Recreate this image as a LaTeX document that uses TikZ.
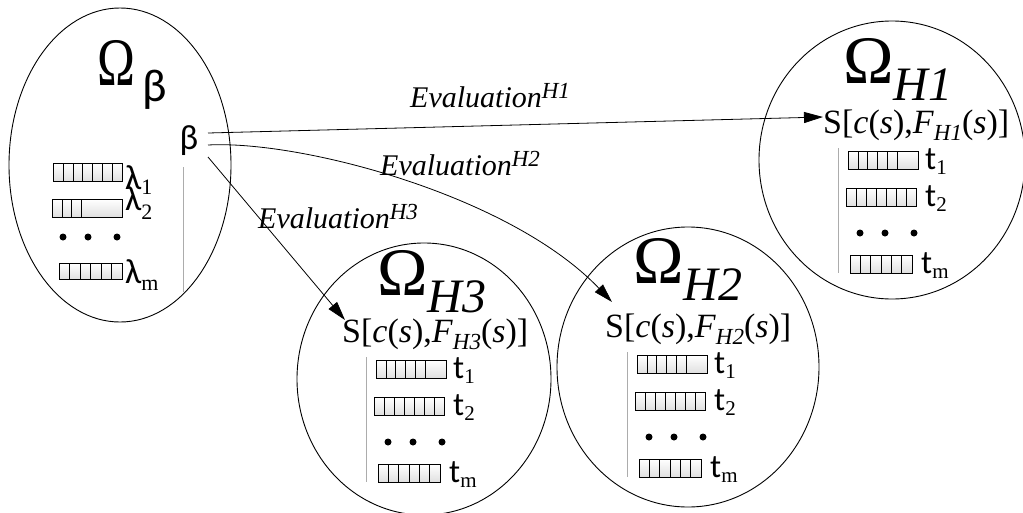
\documentclass[tikz,border=0pt]{standalone}
\usepackage{fontspec}
\setmainfont{Liberation Serif}
\newfontfamily\calib{Carlito}
\usepackage{graphicx}
\usetikzlibrary{shapes.geometric,arrows.meta}
\newcommand\lowsub[3]{\raisebox{-#1}{\fontsize{#2}{#2}\selectfont #3}}
\newcommand\highsup[3]{\raisebox{#1}{\fontsize{#2}{#2}\selectfont #3}}
\newcommand\tlab[1]{{\calib\fontsize{33}{33}\selectfont t}\lowsub{5pt}{21}{#1}}
\newcommand\llab[2]{{\calib\fontsize{35}{35}\selectfont λ}\lowsub{#1}{22}{#2}}

\tikzset{
  region/.style={draw, ellipse, line width=0.9pt, inner sep=0},
  cellbar/.style={draw, line width=0.6pt, top color=white, bottom color=gray!25, inner sep=0, minimum height=18pt, anchor=north west},
  divline/.style={line width=0.6pt},
  vrule/.style={draw=gray!65, line width=0.8pt},
  flow/.style={-{Triangle[length=19pt,width=11pt]}, line width=0.8pt},
  evl/.style={anchor=base west, inner sep=0, font=\fontsize{30}{30}\selectfont\itshape},
  dotmark/.style={fill, circle, inner sep=0, minimum size=7pt},
  txt/.style={anchor=base west, inner sep=0},
}

% #1 prefix, #2 sx, #3 sy, #4 H label, #5 omega dx, #6 omega dy, #7 list x
\newcommand\hgroup[7]{%
\begin{scope}[shift={(#2,#3)}]
\node[txt] (#1s) at (0,0) {\fontsize{34}{34}\selectfont S[\textit{c}(\textit{s}),\textit{F}\lowsub{7pt}{23}{\itshape #4}(\textit{s})]};
\node[txt] (#1t) at (#5,#6) {\fontsize{68}{68}\selectfont Ω\lowsub{17pt}{48}{\itshape #4}};
\draw[vrule] (#7,15) coordinate (#1va) -- (#7,140) coordinate (#1vb);
\node[cellbar, minimum width=70pt] (#1b1) at (#7+10,18) {};
\foreach \d in {10,19,29,39,49} \draw[divline] ([xshift=\d pt]#1b1.north west) -- ([xshift=\d pt]#1b1.south west);
\node[cellbar, minimum width=70pt] (#1b2) at (#7+8,55) {};
\foreach \d in {10,20,30,40,50,60} \draw[divline] ([xshift=\d pt]#1b2.north west) -- ([xshift=\d pt]#1b2.south west);
\node[cellbar, minimum width=62pt] (#1bm) at (#7+12,122) {};
\foreach \d in {10.3,20.7,31,41.3,51.7} \draw[divline] ([xshift=\d pt]#1bm.north west) -- ([xshift=\d pt]#1bm.south west);
\node[dotmark] (#1d1) at (#7+22,100) {};
\node[dotmark] (#1d2) at (#7+47,100) {};
\node[dotmark] (#1d3) at (#7+76,100) {};
\node[txt] (#1l1) at (#7+87,36) {\tlab{1}};
\node[txt] (#1l2) at (#7+87,73) {\tlab{2}};
\node[txt] (#1lm) at (#7+83,140) {\tlab{m}};
\end{scope}}

\begin{document}
\begin{tikzpicture}[x=1pt,y=-1pt]
\useasboundingbox (0,0) rectangle (1023,512);
\fill[white] (0,0) rectangle (1023,512);
\clip (0,0) rectangle (1023,512);

% regions
\node[region, minimum width=222pt, minimum height=314pt] (Eb) at (120,165) {};
\node[region, minimum width=254pt, minimum height=272pt] (E3) at (424,379) {};
\node[region, minimum width=262pt, minimum height=280pt] (E2) at (688,367) {};
\node[region, minimum width=266pt, minimum height=278pt] (E1) at (892,160) {};

% Omega beta
\node[txt, xscale=0.75, transform shape] (Ob) at (97,85) {\fontsize{68}{68}\selectfont Ω};
\node[txt, font=\calib\fontsize{46}{46}\selectfont] (Obs) at (142,101) {β};
\node[inner sep=0, font=\calib\fontsize{35}{35}\selectfont] (beta) at (189,141) {β};
\draw[vrule] (183,167) coordinate (bva) -- (183,292) coordinate (bvb);

\node[cellbar, minimum width=69pt] (bb1) at (53,163) {};
\foreach \d in {10,20,29,39,49,59} \draw[divline] ([xshift=\d pt]bb1.north west) -- ([xshift=\d pt]bb1.south west);
\node[cellbar, minimum width=70pt] (bb2) at (52,199) {};
\foreach \d in {10,19,29} \draw[divline] ([xshift=\d pt]bb2.north west) -- ([xshift=\d pt]bb2.south west);
\node[cellbar, minimum width=63pt, minimum height=16pt] (bbm) at (59,263) {};
\foreach \d in {10.5,21,31.5,42,52.5} \draw[divline] ([xshift=\d pt]bbm.north west) -- ([xshift=\d pt]bbm.south west);
\node[dotmark] (bd1) at (63,237) {};
\node[dotmark] (bd2) at (88,237) {};
\node[dotmark] (bd3) at (117,237) {};
\node[txt] (bl1) at (125,189) {\llab{5pt}{1}};
\node[txt] (bl2) at (125,210) {\llab{9pt}{2}};
\node[txt] (blm) at (125,283) {\llab{7pt}{m}};

% target groups
\hgroup{H3}{342}{342}{H3}{35}{-47}{24}
\hgroup{H2}{605}{337}{H2}{28}{-54}{22}
\hgroup{H1}{823}{133}{H1}{20}{-50}{15}

% connectors
\draw[flow] ([xshift=19pt,yshift=8pt]beta.center) -- ([yshift=16pt]H1s.base west);
\draw[flow] ([xshift=19pt,yshift=-4pt]beta.center) .. controls (300,140) and (510,195) .. ([xshift=7pt,yshift=35pt]H2s.base west);
\draw[flow] ([xshift=19pt,yshift=-16pt]beta.center) -- ([xshift=3pt,yshift=22pt]H3s.base west);

\node[evl] (ev1) at (410,107) {Evaluation\highsup{9pt}{23}{H1}};
\node[evl] (ev2) at (380,175) {Evaluation\highsup{9pt}{23}{H2}};
\node[evl] (ev3) at (258,228) {Evaluation\highsup{9pt}{23}{H3}};
\end{tikzpicture}
\end{document}
